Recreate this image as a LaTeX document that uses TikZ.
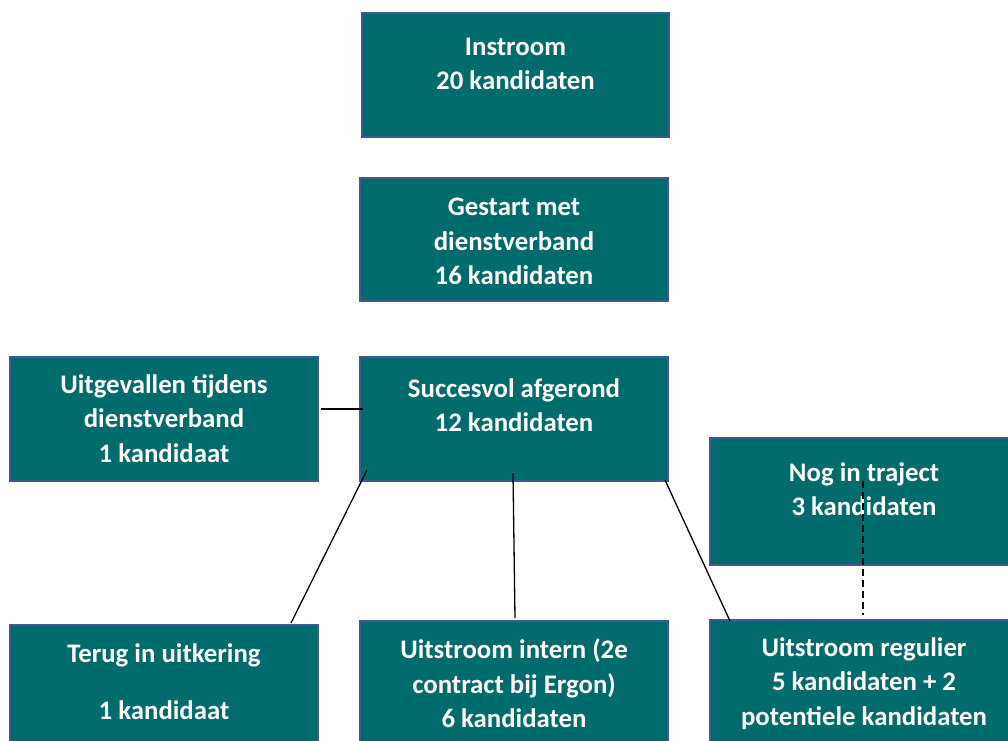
\documentclass[tikz,border=0pt]{standalone}
\usepackage{fontspec}
\setmainfont{Carlito}
\usetikzlibrary{calc}
\definecolor{boxfill}{HTML}{006B6C}
\definecolor{boxline}{HTML}{3F5A8E}
\begin{document}
\begin{tikzpicture}[x=1pt,y=-1pt,
  box/.style={draw=boxline, line width=1.3pt, fill=boxfill, rectangle, anchor=north west, inner sep=0pt, outer sep=0pt},
  txt/.style={text=white, font=\fontsize{26.8}{34.5}\selectfont\bfseries, align=center, anchor=north, inner sep=0pt},
  conn/.style={black, line width=1.3pt},
  thick conn/.style={black, line width=2pt},
  dashconn/.style={black, line width=2pt, dash pattern=on 7pt off 4pt}]
\useasboundingbox (0,0) rectangle (1008,740);
\clip (0,0) rectangle (1008,740);
% boxes
\node[box, minimum width=307, minimum height=124] (inst) at (362,13) {};
\node[box, minimum width=308, minimum height=123] (gest) at (360,178) {};
\node[box, minimum width=308, minimum height=124] (uitg) at (10,357) {};
\node[box, minimum width=308, minimum height=124] (succ) at (360,357) {};
\node[box, minimum width=308, minimum height=127] (nog) at (710,438) {};
\node[box, minimum width=308, minimum height=140] (terug) at (10,625) {};
\node[box, minimum width=308, minimum height=140] (intern) at (360,621) {};
\node[box, minimum width=308, minimum height=140] (reg) at (710,620) {};
% texts
\node[txt] (instT) at ($(inst.north)+(0,18)$) {\strut Instroom\\20 kandidaten};
\node[txt] (gestT) at ($(gest.north)+(0,13.2)$) {\strut Gestart met\\dienstverband\\16 kandidaten};
\node[txt] (uitgT) at ($(uitg.north)+(0,12)$) {\strut Uitgevallen tijdens\\dienstverband\\1 kandidaat};
\node[txt] (succT) at ($(succ.north)+(0,16)$) {\strut Succesvol afgerond\\12 kandidaten};
\node[txt] (nogT) at ($(nog.north)+(0,19)$) {\strut Nog in traject\\3 kandidaten};
\node[txt] (terugT) at ($(terug.north)+(0,13.2)$) {\strut Terug in uitkering\\[22.5pt]1 kandidaat};
\node[txt] (internT) at ($(intern.north)+(0,13.2)$) {\strut Uitstroom intern (2e\\contract bij Ergon)\\6 kandidaten};
\node[txt] (regT) at ($(reg.north)+(0,12)$) {\strut Uitstroom regulier\\5 kandidaten + 2\\potentiele kandidaten};
% connectors
\draw[thick conn] ($(uitg.north east)+(3,52)$) -- ($(succ.north west)+(3,52)$);
\draw[conn] ($(succ.south west)+(7,-11)$) -- ($(terug.north west)+(281,-2)$);
\draw[conn] ($(succ.south west)+(153,-8)$) -- ($(intern.north west)+(155,-3)$);
\draw[conn] ($(succ.south east)+(-3,-1)$) -- ($(reg.north west)+(20,1)$);
\draw[dashconn] ($(nog.north west)+(153,43)$) -- ($(reg.north west)+(153,-5)$);
\end{tikzpicture}
\end{document}
